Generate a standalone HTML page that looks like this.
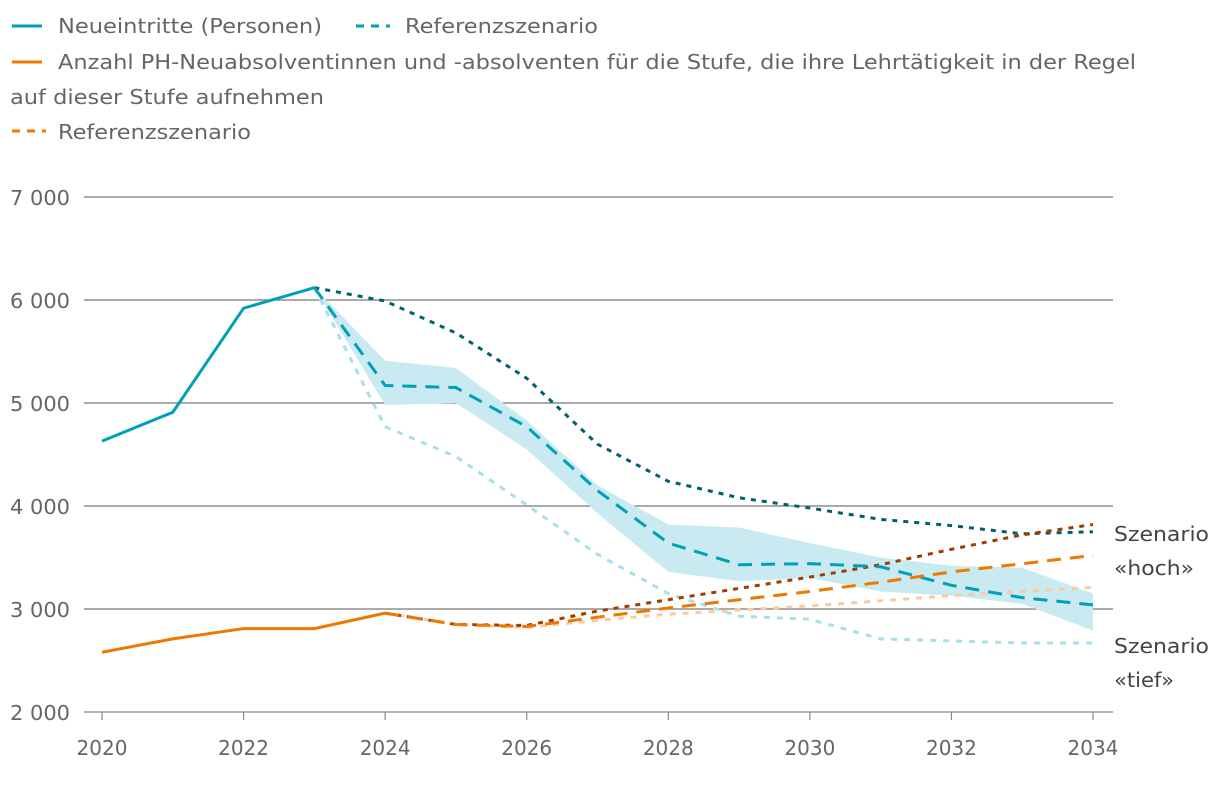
<!DOCTYPE html>
<html><head><meta charset="utf-8">
<style>
body{margin:0;background:#fff;font-family:"DejaVu Sans",sans-serif;}
svg text{font-family:"DejaVu Sans",sans-serif;}
</style></head>
<body>
<svg width="1220" height="782" xmlns="http://www.w3.org/2000/svg">
<g id="legend" font-size="20" fill="#666">
  <line x1="12" y1="26" x2="42" y2="26" stroke="#00a0b8" stroke-width="3"/>
  <text x="58" y="33" textLength="264" lengthAdjust="spacingAndGlyphs">Neueintritte (Personen)</text>
  <line x1="356" y1="26" x2="390" y2="26" stroke="#00a0b8" stroke-width="3" stroke-dasharray="8,7"/>
  <text x="405" y="33" textLength="193" lengthAdjust="spacingAndGlyphs">Referenzszenario</text>
  <line x1="12" y1="62" x2="42" y2="62" stroke="#f07800" stroke-width="3"/>
  <text x="58" y="69" textLength="1078" lengthAdjust="spacingAndGlyphs">Anzahl PH-Neuabsolventinnen und -absolventen für die Stufe, die ihre Lehrtätigkeit in der Regel</text>
  <text x="10" y="104" textLength="314" lengthAdjust="spacingAndGlyphs">auf dieser Stufe aufnehmen</text>
  <line x1="12" y1="131" x2="46" y2="131" stroke="#f07800" stroke-width="3" stroke-dasharray="8,7"/>
  <text x="58" y="139" textLength="193" lengthAdjust="spacingAndGlyphs">Referenzszenario</text>
</g>
<g id="grid"></g>
<g id="plot"></g>
<g id="axes" font-size="20" fill="#666"></g>
<text x="1114" y="541" font-size="20" fill="#444" textLength="95" lengthAdjust="spacingAndGlyphs">Szenario</text>
<text x="1114" y="575" font-size="20" fill="#444" textLength="80" lengthAdjust="spacingAndGlyphs">«hoch»</text>
<text x="1114" y="653" font-size="20" fill="#444" textLength="95" lengthAdjust="spacingAndGlyphs">Szenario</text>
<text x="1114" y="687" font-size="20" fill="#444" textLength="60" lengthAdjust="spacingAndGlyphs">«tief»</text>
</svg>
<script>
const yTicks=[2000,3000,4000,5000,6000,7000];
const yTickLabels=["2 000","3 000","4 000","5 000","6 000","7 000"];
const xTicks=[2020,2022,2024,2026,2028,2030,2032,2034];
const histYears=[2020,2021,2022,2023];
const neueintritte=[4630,4910,5920,6120];
const projYearsBlue=[2023,2024,2025,2026,2027,2028,2029,2030,2031,2032,2033,2034];
const blueRef=[6120,5170,5150,4770,4150,3640,3430,3440,3410,3230,3110,3040];
const blueUpper=[6120,5410,5340,4830,4200,3820,3790,3640,3500,3420,3400,3150];
const blueLower=[6120,4980,5000,4550,3930,3360,3270,3300,3170,3130,3050,2790];
const blueHigh=[6120,5990,5680,5240,4600,4240,4080,3980,3870,3810,3730,3750];
const blueLow=[6120,4770,4480,4010,3530,3150,2930,2900,2710,2690,2670,2670];
const orangeYears=[2020,2021,2022,2023,2024];
const absolventen=[2580,2710,2810,2810,2960];
const projYearsOrange=[2024,2025,2026,2027,2028,2029,2030,2031,2032,2033,2034];
const orangeRef=[2960,2850,2830,2920,3010,3090,3170,3260,3360,3440,3520];
const orangeHigh=[2960,2850,2840,2980,3090,3200,3310,3430,3580,3720,3820];
const orangeLow=[2960,2850,2820,2890,2950,2990,3030,3080,3130,3170,3210];

const X=y=>102+(y-2020)*(1093-102)/14;
const Y=v=>712-(v-2000)*0.103;
const NS="http://www.w3.org/2000/svg";
function mk(parent,tag,attrs){const e=document.createElementNS(NS,tag);for(const k in attrs)e.setAttribute(k,attrs[k]);document.getElementById(parent).appendChild(e);return e;}
yTicks.forEach((t,i)=>{
  const l=mk('grid','line',{x1:84,x2:1113,y1:Y(t),y2:Y(t),stroke:t===2000?'#888':'#777','stroke-width':1.2});
  
  
  const tx=mk('axes','text',{x:10,y:Y(t)+8,textLength:60,lengthAdjust:'spacingAndGlyphs'});
  tx.textContent=yTickLabels[i];
  
  
});
xTicks.forEach(t=>{
  const l=mk('axes','line',{x1:X(t),x2:X(t),y1:712,y2:720,stroke:'#888','stroke-width':1.2});
  
  
  const tx=mk('axes','text',{x:X(t),y:755,'text-anchor':'middle'});
  tx.textContent=t;
  
  
});
const pts=(xs,vs)=>xs.map((x,i)=>X(x)+','+Y(vs[i])).join(' ');
const band=mk('plot','polygon',{points:pts(projYearsBlue,blueUpper)+' '+pts(projYearsBlue.slice().reverse(),blueLower.slice().reverse()),fill:'#c8eaf0'});


function line(name,xs,vs,color,dash,w){
  const p=mk('plot','polyline',{points:pts(xs,vs),fill:'none',stroke:color,'stroke-width':w||3,'stroke-dasharray':dash||'none'});
  
  
}
line('blue-low-scenario',projYearsBlue,blueLow,'#a8dfe8','6,7');
line('orange-low-scenario',projYearsOrange,orangeLow,'#fcc9a0','6,7');
line('blue-high-scenario',projYearsBlue,blueHigh,'#00606e','5,6');
line('orange-high-scenario',projYearsOrange,orangeHigh,'#a03c00','5,6');
line('blue-reference',projYearsBlue,blueRef,'#00a0b8','14,9');
line('orange-reference',projYearsOrange,orangeRef,'#f07800','14,9');
line('neueintritte-line',histYears,neueintritte,'#00a0b8');
line('absolventen-line',orangeYears,absolventen,'#f07800');
</script>
</body></html>
